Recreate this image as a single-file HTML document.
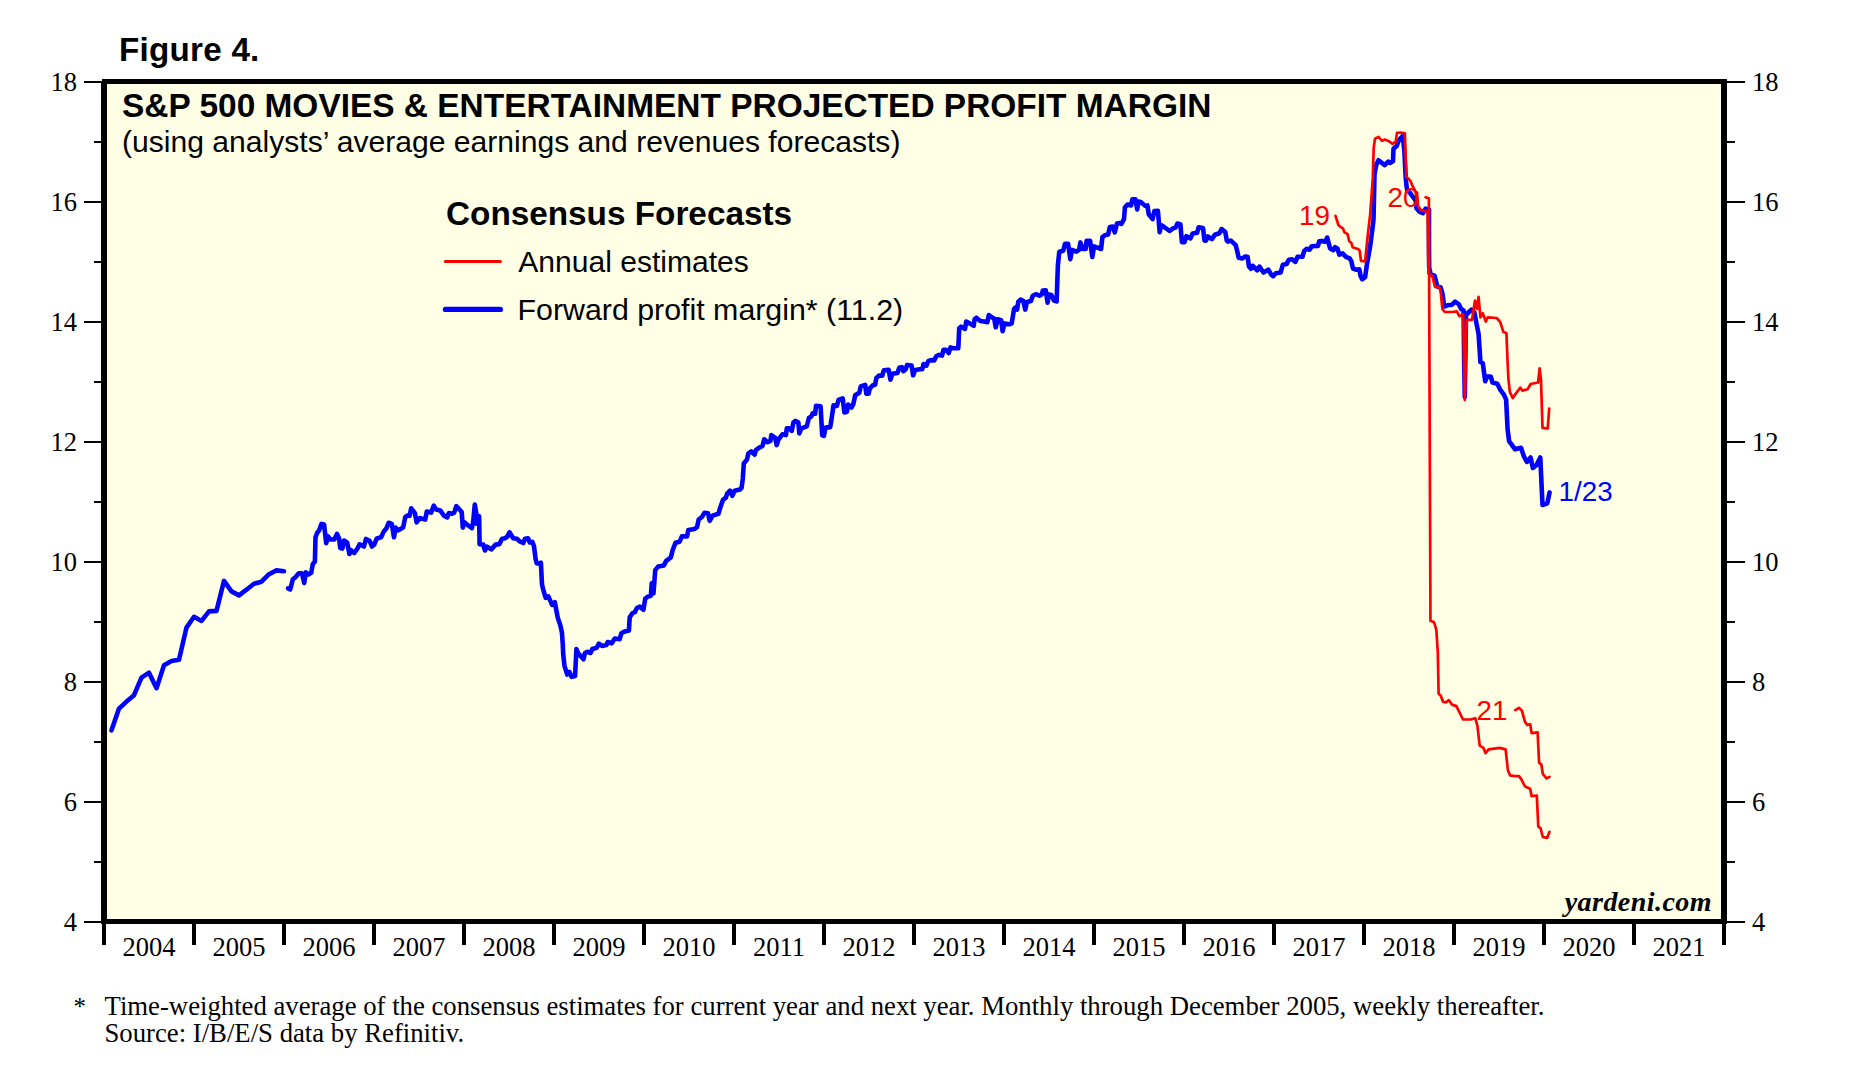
<!DOCTYPE html>
<html><head><meta charset="utf-8"><style>
html,body{margin:0;padding:0;background:#fff;}
svg{display:block;}
</style></head><body>
<svg width="1860" height="1078" viewBox="0 0 1860 1078">
<rect x="0" y="0" width="1860" height="1078" fill="#fff"/>
<text x="119" y="61" font-family='"Liberation Sans", sans-serif' font-weight="bold" font-size="33.2" letter-spacing="0.25">Figure 4.</text>
<rect x="104" y="82" width="1620" height="840" fill="#FFFFE6"/>
<g fill="#000"><rect x="84" y="81" width="20" height="2"/><rect x="1724" y="81" width="21" height="2"/><rect x="94" y="141" width="10" height="2"/><rect x="1724" y="141" width="11" height="2"/><rect x="84" y="201" width="20" height="2"/><rect x="1724" y="201" width="21" height="2"/><rect x="94" y="261" width="10" height="2"/><rect x="1724" y="261" width="11" height="2"/><rect x="84" y="321" width="20" height="2"/><rect x="1724" y="321" width="21" height="2"/><rect x="94" y="381" width="10" height="2"/><rect x="1724" y="381" width="11" height="2"/><rect x="84" y="441" width="20" height="2"/><rect x="1724" y="441" width="21" height="2"/><rect x="94" y="501" width="10" height="2"/><rect x="1724" y="501" width="11" height="2"/><rect x="84" y="561" width="20" height="2"/><rect x="1724" y="561" width="21" height="2"/><rect x="94" y="621" width="10" height="2"/><rect x="1724" y="621" width="11" height="2"/><rect x="84" y="681" width="20" height="2"/><rect x="1724" y="681" width="21" height="2"/><rect x="94" y="741" width="10" height="2"/><rect x="1724" y="741" width="11" height="2"/><rect x="84" y="801" width="20" height="2"/><rect x="1724" y="801" width="21" height="2"/><rect x="94" y="861" width="10" height="2"/><rect x="1724" y="861" width="11" height="2"/><rect x="84" y="921" width="20" height="2"/><rect x="1724" y="921" width="21" height="2"/></g>
<g fill="#000"><rect x="102" y="921" width="4" height="24"/><rect x="192" y="921" width="4" height="24"/><rect x="282" y="921" width="4" height="24"/><rect x="372" y="921" width="4" height="24"/><rect x="462" y="921" width="4" height="24"/><rect x="552" y="921" width="4" height="24"/><rect x="642" y="921" width="4" height="24"/><rect x="732" y="921" width="4" height="24"/><rect x="822" y="921" width="4" height="24"/><rect x="912" y="921" width="4" height="24"/><rect x="1002" y="921" width="4" height="24"/><rect x="1092" y="921" width="4" height="24"/><rect x="1182" y="921" width="4" height="24"/><rect x="1272" y="921" width="4" height="24"/><rect x="1362" y="921" width="4" height="24"/><rect x="1452" y="921" width="4" height="24"/><rect x="1542" y="921" width="4" height="24"/><rect x="1632" y="921" width="4" height="24"/><rect x="1722" y="921" width="4" height="24"/></g>
<g font-family='"Liberation Serif", serif' font-size="26.5" fill="#000"><text x="77" y="931.2" text-anchor="end">4</text><text x="1752" y="931.2">4</text><text x="77" y="811.2" text-anchor="end">6</text><text x="1752" y="811.2">6</text><text x="77" y="691.2" text-anchor="end">8</text><text x="1752" y="691.2">8</text><text x="77" y="571.2" text-anchor="end">10</text><text x="1752" y="571.2">10</text><text x="77" y="451.2" text-anchor="end">12</text><text x="1752" y="451.2">12</text><text x="77" y="331.2" text-anchor="end">14</text><text x="1752" y="331.2">14</text><text x="77" y="211.2" text-anchor="end">16</text><text x="1752" y="211.2">16</text><text x="77" y="91.2" text-anchor="end">18</text><text x="1752" y="91.2">18</text><text x="149" y="955.7" text-anchor="middle">2004</text><text x="239" y="955.7" text-anchor="middle">2005</text><text x="329" y="955.7" text-anchor="middle">2006</text><text x="419" y="955.7" text-anchor="middle">2007</text><text x="509" y="955.7" text-anchor="middle">2008</text><text x="599" y="955.7" text-anchor="middle">2009</text><text x="689" y="955.7" text-anchor="middle">2010</text><text x="779" y="955.7" text-anchor="middle">2011</text><text x="869" y="955.7" text-anchor="middle">2012</text><text x="959" y="955.7" text-anchor="middle">2013</text><text x="1049" y="955.7" text-anchor="middle">2014</text><text x="1139" y="955.7" text-anchor="middle">2015</text><text x="1229" y="955.7" text-anchor="middle">2016</text><text x="1319" y="955.7" text-anchor="middle">2017</text><text x="1409" y="955.7" text-anchor="middle">2018</text><text x="1499" y="955.7" text-anchor="middle">2019</text><text x="1589" y="955.7" text-anchor="middle">2020</text><text x="1679" y="955.7" text-anchor="middle">2021</text></g>
<text x="122" y="117" font-family='"Liberation Sans", sans-serif' font-weight="bold" font-size="33.45">S&amp;P 500 MOVIES &amp; ENTERTAINMENT PROJECTED PROFIT MARGIN</text>
<text x="122" y="151.5" font-family='"Liberation Sans", sans-serif' font-size="30.1">(using analysts’ average earnings and revenues forecasts)</text>
<text x="446" y="224.8" font-family='"Liberation Sans", sans-serif' font-weight="bold" font-size="33.3">Consensus Forecasts</text>
<line x1="445.4" y1="261.5" x2="500.4" y2="261.5" stroke="#f00" stroke-width="3" stroke-linecap="round"/>
<text x="518.3" y="272" font-family='"Liberation Sans", sans-serif' font-size="30.05">Annual estimates</text>
<line x1="445.4" y1="309.4" x2="500.4" y2="309.4" stroke="#00f" stroke-width="5.2" stroke-linecap="round"/>
<text x="517.5" y="319.8" font-family='"Liberation Sans", sans-serif' font-size="30.35">Forward profit margin* (11.2)</text>
<g fill="none" stroke-linejoin="round" stroke-linecap="round">
<polyline points="111.5,730.3 119.0,708.6 126.5,701.6 134.0,695.2 141.5,677.7 149.0,672.7 156.5,688.2 164.0,665.2 171.5,661.0 179.0,659.8 186.5,627.6 194.0,616.8 201.5,620.9 209.0,611.4 216.5,610.9 224.0,580.9 231.5,591.4 239.0,595.4 246.5,589.7 254.0,583.7 261.5,581.7 269.0,574.2 276.5,570.4 284.0,571.2" stroke="#00f" stroke-width="4.6"/>
<polyline points="288.1,588.4 290.2,589.5 292.9,579.2 295.6,577.1 298.8,573.3 302.0,573.3 304.2,583.0 305.8,572.3 308.5,574.4 311.2,572.8 312.8,564.2 314.9,561.5 315.5,537.3 317.1,533.0 319.2,530.3 321.4,523.9 324.1,524.4 326.2,543.2 327.8,536.2 330.5,539.5 334.3,539.5 337.0,533.9 339.1,538.4 340.2,548.1 342.4,548.6 344.0,540.5 347.2,542.7 349.4,554.0 351.0,550.2 354.2,552.9 357.4,548.6 359.6,544.3 363.9,546.5 366.0,538.9 369.8,541.1 371.9,546.5 374.1,544.8 376.8,538.4 381.1,537.3 383.8,531.4 386.5,528.2 388.6,522.8 391.8,523.9 394.0,537.3 395.6,527.6 398.3,530.3 403.1,527.6 405.3,516.9 408.0,515.3 409.6,515.8 411.2,508.3 414.9,513.1 416.6,522.3 419.8,518.0 425.2,519.6 426.8,511.5 431.1,512.6 433.8,505.6 436.0,509.4 440.2,510.4 444.0,515.8 447.2,517.4 448.8,513.1 452.0,513.7 454.2,512.6 456.3,506.1 461.7,512.0 462.8,527.6 464.4,522.3 468.2,525.5 471.9,528.2 473.2,521.7 474.8,504.6 476.4,514.2 476.9,523.8 479.1,516.3 479.6,544.1 483.3,544.6 484.9,550.5 487.1,546.7 491.3,549.4 495.6,544.6 499.3,544.1 502.0,538.7 505.2,538.2 507.3,536.6 509.5,532.3 513.2,538.2 516.9,538.7 519.6,541.4 523.3,543.0 524.9,538.7 528.1,538.2 529.7,542.5 532.4,541.9 534.0,546.2 535.6,559.0 536.7,563.3 539.3,563.8 540.9,562.7 542.0,584.6 543.6,591.0 545.7,597.9 548.4,596.3 552.1,604.8 554.8,602.2 557.0,613.8 557.9,618.2 560.1,624.4 561.9,632.3 562.8,644.6 563.2,654.3 564.5,665.8 567.2,674.6 569.4,671.9 571.6,676.8 575.1,675.9 576.4,649.0 578.2,653.4 583.5,659.2 584.8,653.4 587.0,651.7 590.5,653.0 592.3,649.0 596.7,647.7 598.9,643.7 602.0,646.0 606.4,645.1 607.7,642.0 611.7,643.3 614.8,638.5 619.6,639.3 621.4,633.2 624.9,631.4 628.9,630.5 629.7,617.3 632.4,613.3 635.0,612.0 636.8,608.1 639.9,606.7 643.4,609.8 645.2,598.8 647.8,596.6 650.9,595.7 651.7,583.4 653.5,593.3 655.2,570.1 658.1,566.6 663.9,565.4 666.2,560.8 670.9,557.3 672.6,550.4 675.5,542.8 679.6,541.7 681.9,536.4 687.1,536.4 688.3,530.1 694.6,528.9 697.0,527.2 698.7,519.6 702.2,516.7 704.5,512.7 708.0,513.3 709.7,520.8 712.6,515.6 718.4,513.8 720.1,508.0 723.0,499.9 725.9,497.6 727.1,493.6 730.0,490.7 732.3,495.9 734.6,490.7 739.9,489.5 741.6,487.8 742.8,478.5 743.8,463.5 747.1,459.3 748.3,453.4 751.3,451.4 754.6,454.7 755.9,450.1 759.2,447.6 762.5,445.9 764.2,439.3 767.6,442.2 770.5,440.9 771.3,435.1 775.1,437.6 776.7,445.1 778.4,439.7 782.6,434.2 785.9,435.1 786.8,428.4 789.3,428.4 791.8,430.9 793.4,422.6 795.5,420.9 798.4,422.6 799.3,433.4 801.4,428.4 806.8,426.3 808.9,418.0 811.4,416.3 812.6,413.4 815.1,413.8 816.0,405.9 820.6,406.3 822.2,435.1 823.9,435.9 825.6,427.6 830.2,427.1 831.4,420.0 833.5,405.4 836.9,405.9 838.5,400.0 842.7,398.3 844.4,412.5 846.9,411.7 848.1,404.6 851.5,407.5 853.3,404.2 855.2,395.3 859.3,392.7 860.8,386.4 865.2,384.9 866.3,393.8 868.6,393.8 869.7,388.6 872.3,385.7 875.2,384.5 876.3,378.2 878.9,375.6 882.3,375.6 883.8,370.4 888.6,369.7 890.4,379.7 892.3,373.8 897.5,373.0 899.3,367.8 901.9,367.1 903.4,371.2 905.7,369.3 907.1,364.9 911.6,365.6 913.1,375.3 915.3,370.1 919.7,369.3 922.3,369.3 923.5,364.1 926.4,365.6 928.3,361.2 930.9,360.1 934.2,360.4 936.4,356.0 939.0,354.9 942.0,355.6 943.5,349.7 945.7,349.7 948.7,353.0 950.5,347.4 953.1,348.2 958.3,348.2 959.2,328.3 961.0,326.7 965.0,328.9 966.2,321.6 968.6,322.8 973.7,325.8 974.6,319.2 976.4,317.7 980.3,321.0 984.0,321.6 987.3,322.2 988.8,315.0 992.1,317.4 994.2,318.6 995.7,327.3 997.8,319.2 1001.1,320.1 1002.6,331.3 1004.5,323.4 1009.3,324.3 1011.7,323.4 1014.1,308.9 1015.9,307.1 1017.1,309.6 1018.3,301.7 1020.7,299.6 1023.2,300.8 1025.3,309.6 1026.8,302.0 1031.0,301.1 1032.8,295.7 1035.8,294.2 1039.4,295.7 1041.9,294.2 1042.8,290.6 1045.8,290.3 1047.6,302.6 1048.8,294.5 1051.5,295.1 1053.9,300.5 1056.6,301.4 1057.9,264.9 1059.3,251.7 1063.2,250.8 1065.0,243.7 1068.1,243.7 1070.3,259.2 1072.0,249.9 1076.4,251.7 1079.1,249.9 1080.4,242.4 1082.6,249.0 1085.7,249.0 1086.6,240.7 1090.1,240.7 1092.3,257.0 1094.1,246.4 1101.1,249.0 1102.4,237.1 1105.5,234.9 1108.1,234.5 1109.9,227.0 1112.6,226.6 1114.8,232.3 1117.0,223.5 1119.6,223.0 1121.4,223.9 1124.0,219.1 1124.9,207.6 1127.5,204.5 1131.1,205.4 1132.4,199.3 1135.5,199.3 1137.2,209.4 1138.5,201.5 1140.7,201.9 1145.2,205.9 1147.4,205.4 1148.7,214.2 1152.6,219.1 1154.4,211.1 1157.9,210.7 1159.7,232.3 1161.0,225.2 1161.9,225.4 1169.6,231.0 1173.0,228.4 1175.6,227.6 1177.4,223.6 1180.4,224.3 1181.9,242.1 1184.5,242.1 1186.3,236.2 1190.4,238.4 1192.6,233.6 1197.1,232.8 1198.6,227.3 1203.0,228.0 1204.5,240.6 1206.0,240.6 1207.9,236.5 1211.9,239.1 1214.9,234.7 1219.4,233.2 1221.6,229.1 1225.3,232.1 1226.8,240.6 1227.9,241.7 1230.9,240.6 1235.7,245.1 1237.2,251.0 1238.7,257.7 1242.4,258.4 1245.0,256.6 1247.6,256.9 1249.0,266.6 1250.9,268.8 1252.8,265.8 1257.2,270.3 1259.4,266.6 1263.5,272.5 1268.3,269.6 1271.3,274.7 1273.2,276.2 1275.8,273.3 1280.6,272.5 1282.9,264.7 1286.7,263.9 1288.8,259.7 1292.1,259.3 1295.4,261.8 1297.5,256.8 1302.5,256.8 1304.2,250.9 1306.7,248.8 1309.6,249.7 1311.7,246.3 1318.0,245.9 1319.2,241.3 1321.7,240.9 1325.1,241.7 1327.2,237.6 1329.2,245.1 1330.1,248.4 1333.4,250.1 1335.1,247.2 1337.6,248.8 1339.3,254.7 1342.6,253.4 1345.9,256.8 1349.7,258.4 1351.4,261.4 1353.0,268.5 1356.0,269.7 1359.3,269.3 1360.6,276.0 1362.2,279.3 1365.1,277.2 1366.8,265.1 1370.2,245.9 1371.8,233.4 1373.5,220.0 1374.5,174.3 1376.3,164.6 1378.5,160.2 1384.7,165.1 1388.2,161.6 1390.4,162.9 1393.0,161.1 1393.5,148.8 1396.6,146.1 1398.8,140.4 1401.4,137.3 1402.7,136.0 1404.3,150.0 1405.6,176.0 1406.5,186.0 1407.3,190.1 1410.0,192.9 1413.3,197.5 1415.9,201.0 1416.5,208.3 1419.3,211.6 1423.0,213.1 1425.6,208.7 1429.0,209.8 1429.0,245.0 1429.2,268.0 1430.8,274.5 1434.6,275.8 1437.3,286.6 1440.6,287.3 1442.4,293.3 1444.2,306.5 1447.8,305.3 1452.1,304.7 1455.1,301.7 1458.7,304.1 1461.1,309.0 1463.6,310.5 1464.2,364.4 1464.8,397.0 1465.3,364.0 1466.0,315.0 1469.0,312.0 1471.4,309.6 1474.4,312.6 1476.2,322.2 1478.6,334.3 1479.8,352.4 1480.4,362.0 1482.8,363.2 1485.2,381.3 1487.1,376.5 1490.7,376.5 1492.5,382.5 1497.3,383.8 1500.3,389.8 1503.9,394.6 1506.1,399.6 1507.6,429.3 1509.1,441.1 1515.1,449.3 1521.0,447.8 1524.0,456.7 1526.9,461.9 1530.6,457.5 1532.9,467.9 1536.6,464.9 1540.3,457.5 1542.5,505.0 1547.3,503.3 1549.6,492.4" stroke="#00f" stroke-width="4.6"/>
<polyline points="1335.5,215.9 1338.4,225.0 1340.9,227.1 1343.0,228.4 1344.3,232.1 1347.6,234.2 1349.3,241.3 1351.4,243.0 1352.6,247.2 1358.5,249.3 1359.7,250.9 1361.0,260.9 1365.1,261.4 1367.6,236.7 1370.2,214.2 1372.8,177.9 1373.7,147.9 1375.0,138.7 1378.5,136.9 1382.0,140.9 1384.7,139.5 1389.1,141.3 1392.6,143.9 1395.7,141.7 1397.0,132.9 1400.5,132.5 1404.9,133.4 1406.3,177.0 1408.5,178.5 1410.5,181.0 1412.2,185.3 1415.5,191.6 1417.0,192.7 1418.1,206.4 1421.1,210.1 1427.6,211.8 1428.4,273.5 1432.3,275.8 1435.0,286.9 1439.0,286.9 1440.6,290.9 1442.4,309.0 1444.8,312.0 1452.1,312.0 1456.9,311.4 1459.3,316.2 1463.2,314.4 1464.8,400.0 1466.7,319.8 1472.0,319.8 1475.0,300.5 1476.8,309.0 1478.6,296.9 1480.4,317.4 1482.8,313.2 1485.8,321.6 1487.7,317.4 1496.7,318.0 1500.3,322.2 1503.3,331.9 1506.4,333.1 1507.6,362.0 1508.4,378.8 1509.9,392.1 1512.8,398.1 1515.8,393.6 1520.2,387.7 1522.5,390.6 1527.7,389.2 1530.6,384.0 1538.1,382.5 1539.6,368.4 1541.0,380.2 1542.5,427.8 1547.7,428.5 1549.2,408.5" stroke="#f00" stroke-width="2.7"/>
<polyline points="1425.6,197.3 1428.9,198.4 1429.2,300.0 1430.4,600.0 1430.4,620.8 1434.1,622.3 1436.3,629.7 1437.8,651.9 1438.6,693.5 1440.8,695.7 1443.0,701.7 1446.0,702.4 1448.9,700.2 1451.9,704.6 1456.4,706.1 1463.0,719.5 1470.5,719.5 1475.2,718.2 1477.4,725.6 1479.7,745.7 1483.4,747.9 1485.6,753.1 1488.6,749.4 1499.7,747.9 1505.6,749.4 1507.9,770.2 1510.1,775.4 1514.6,776.1 1519.0,776.1 1521.2,779.1 1525.0,786.5 1530.2,788.8 1531.6,796.2 1536.8,795.5 1538.3,826.6 1540.5,828.1 1542.8,837.0 1547.2,837.8 1549.5,831.8" stroke="#f00" stroke-width="2.7"/>
<polyline points="1515.3,710.1 1519.0,707.8 1522.0,710.8 1525.0,721.9 1527.2,724.9 1530.2,724.2 1531.6,733.1 1537.6,732.3 1539.1,762.8 1541.3,764.3 1542.8,773.9 1546.5,778.4 1549.5,776.9" stroke="#f00" stroke-width="2.7"/>
</g>
<g font-family='"Liberation Sans", sans-serif' font-size="27.8">
<text x="1299" y="224.6" fill="#f00">19</text>
<text x="1387.5" y="207" fill="#f00">20</text>
<text x="1476.5" y="719.7" fill="#f00">21</text>
<text x="1558.5" y="501" fill="#00f">1/23</text>
</g>
<text x="1712" y="910.6" text-anchor="end" font-family='"Liberation Serif", serif' font-weight="bold" font-style="italic" font-size="28" letter-spacing="0.45">yardeni.com</text>
<g fill="#000"><rect x="102" y="79" width="1625" height="5"/><rect x="101" y="919" width="1626" height="5"/><rect x="101" y="83" width="6" height="841"/><rect x="1721" y="79" width="6" height="845"/></g>
<g font-family='"Liberation Serif", serif' font-size="26.72" fill="#000">
<text x="73.5" y="1015" font-size="25">*</text>
<text x="104.5" y="1015">Time-weighted average of the consensus estimates for current year and next year. Monthly through December 2005, weekly thereafter.</text>
<text x="104.5" y="1041.5">Source: I/B/E/S data by Refinitiv.</text>
</g>
</svg>
</body></html>
